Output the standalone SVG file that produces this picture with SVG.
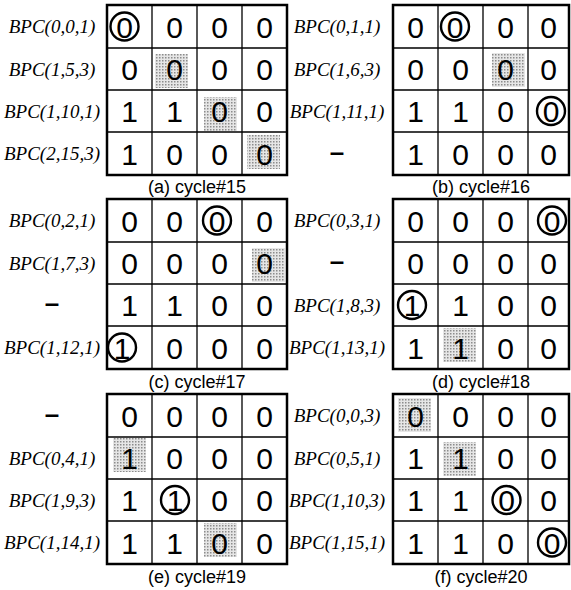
<svg xmlns="http://www.w3.org/2000/svg" width="571" height="590" viewBox="0 0 571 590">
<defs>
<pattern id="dots" width="3" height="3" patternUnits="userSpaceOnUse">
<rect width="3" height="3" fill="#e6e6e6"/>
<rect width="1.5" height="1.5" fill="#8c8c8c"/>
</pattern>
<style>
.outer{fill:none;stroke:#000;stroke-width:2.5}
.inner{fill:none;stroke:#000;stroke-width:1.3}
.shade{fill:url(#dots)}
.d{font-family:"Liberation Sans",Arial,sans-serif;font-size:30px;text-anchor:middle;fill:#000}
.lbl{font-family:"Liberation Serif","Times New Roman",serif;font-style:italic;font-size:19px;text-anchor:middle;fill:#000}
.dash{font-family:"Liberation Sans",Arial,sans-serif;font-size:26px;font-weight:bold;text-anchor:middle;fill:#000}
.cap{font-family:"Liberation Sans",Arial,sans-serif;font-size:18px;text-anchor:middle;fill:#000}
.ring{fill:none;stroke:#000;stroke-width:2.4}
</style>
</defs>
<rect width="571" height="590" fill="#fff"/>

<g id="panel-a">
<rect class="shade" x="155" y="54" width="33" height="34"/>
<rect class="shade" x="204" y="97" width="33" height="34"/>
<rect class="shade" x="247" y="135" width="33" height="34"/>
<path class="inner" d="M152 5V175M197 5V175M242 5V175M107 48H287M107 90H287M107 132H287"/>
<rect class="outer" x="107" y="5" width="180" height="170"/>
<text class="lbl" x="52" y="33">BPC(0,0,1)</text>
<text class="lbl" x="52" y="75.5">BPC(1,5,3)</text>
<text class="lbl" x="52" y="117.5">BPC(1,10,1)</text>
<text class="lbl" x="52" y="160">BPC(2,15,3)</text>
<text class="d" x="124.5 174.5 219.5 264.5" y="37.5">0000</text>
<text class="d" x="129.5 174.5 219.5 264.5" y="80">0000</text>
<text class="d" x="129.5 174.5 219.5 264.5" y="122">1100</text>
<text class="d" x="129.5 174.5 219.5 264.5" y="164.5">1000</text>
<circle class="ring" cx="124.5" cy="26.5" r="14"/>
<text class="cap" x="197" y="193">(a) cycle#15</text>
</g>

<g id="panel-b">
<rect class="shade" x="492" y="53" width="33" height="34"/>
<path class="inner" d="M438 5V175M483 5V175M528 5V175M393 48H569M393 90H569M393 132H569"/>
<rect class="outer" x="393" y="5" width="176" height="170"/>
<text class="lbl" x="337" y="33">BPC(0,1,1)</text>
<text class="lbl" x="337" y="75.5">BPC(1,6,3)</text>
<text class="lbl" x="337" y="117.5">BPC(1,11,1)</text>
<text class="dash" x="337" y="160.5">–</text>
<text class="d" x="415.5 455 505.5 548.5" y="37.5">0000</text>
<text class="d" x="415.5 460.5 505.5 548.5" y="80">0000</text>
<text class="d" x="415.5 460.5 505.5 551" y="122">1100</text>
<text class="d" x="415.5 460.5 505.5 548.5" y="164.5">1000</text>
<circle class="ring" cx="455" cy="26.5" r="14"/>
<circle class="ring" cx="551" cy="111" r="14"/>
<text class="cap" x="481" y="193">(b) cycle#16</text>
</g>

<g id="panel-c">
<rect class="shade" x="252" y="248" width="33" height="34"/>
<path class="inner" d="M152 199V369M197 199V369M242 199V369M107 242H287M107 284H287M107 326H287"/>
<rect class="outer" x="107" y="199" width="180" height="170"/>
<text class="lbl" x="52" y="227">BPC(0,2,1)</text>
<text class="lbl" x="52" y="269.5">BPC(1,7,3)</text>
<text class="dash" x="52" y="312">–</text>
<text class="lbl" x="52" y="354">BPC(1,12,1)</text>
<text class="d" x="129.5 174.5 217 264.5" y="231.5">0000</text>
<text class="d" x="129.5 174.5 219.5 264.5" y="274">0000</text>
<text class="d" x="129.5 174.5 219.5 264.5" y="316">1100</text>
<text class="d" x="122 174.5 219.5 264.5" y="358.5">1000</text>
<circle class="ring" cx="217" cy="220.5" r="14"/>
<circle class="ring" cx="122" cy="347.5" r="14"/>
<text class="cap" x="197" y="388">(c) cycle#17</text>
</g>

<g id="panel-d">
<rect class="shade" x="443" y="328" width="33" height="34"/>
<path class="inner" d="M438 199V369M483 199V369M528 199V369M393 242H569M393 284H569M393 326H569"/>
<rect class="outer" x="393" y="199" width="176" height="170"/>
<text class="lbl" x="337" y="227">BPC(0,3,1)</text>
<text class="dash" x="337" y="270">–</text>
<text class="lbl" x="337" y="311.5">BPC(1,8,3)</text>
<text class="lbl" x="337" y="354">BPC(1,13,1)</text>
<text class="d" x="415.5 460.5 505.5 552" y="231.5">0000</text>
<text class="d" x="415.5 460.5 505.5 548.5" y="274">0000</text>
<text class="d" x="412 460.5 505.5 548.5" y="316">1100</text>
<text class="d" x="415.5 460.5 505.5 548.5" y="358.5">1100</text>
<circle class="ring" cx="552" cy="220.5" r="14"/>
<circle class="ring" cx="412" cy="305" r="14"/>
<text class="cap" x="481" y="388">(d) cycle#18</text>
</g>

<g id="panel-e">
<rect class="shade" x="113" y="438" width="33" height="34"/>
<rect class="shade" x="204" y="523" width="33" height="34"/>
<path class="inner" d="M152 394V564M197 394V564M242 394V564M107 437H287M107 479H287M107 521H287"/>
<rect class="outer" x="107" y="394" width="180" height="170"/>
<text class="dash" x="52" y="422.5">–</text>
<text class="lbl" x="52" y="464.5">BPC(0,4,1)</text>
<text class="lbl" x="52" y="506.5">BPC(1,9,3)</text>
<text class="lbl" x="52" y="549">BPC(1,14,1)</text>
<text class="d" x="129.5 174.5 219.5 264.5" y="426.5">0000</text>
<text class="d" x="129.5 174.5 219.5 264.5" y="469">1000</text>
<text class="d" x="129.5 175 219.5 264.5" y="511">1100</text>
<text class="d" x="129.5 174.5 219.5 264.5" y="553.5">1100</text>
<circle class="ring" cx="175" cy="500" r="14"/>
<text class="cap" x="197" y="583">(e) cycle#19</text>
</g>

<g id="panel-f">
<rect class="shade" x="398" y="398" width="33" height="34"/>
<rect class="shade" x="443" y="442" width="33" height="34"/>
<path class="inner" d="M438 394V564M483 394V564M528 394V564M393 437H569M393 479H569M393 521H569"/>
<rect class="outer" x="393" y="394" width="176" height="170"/>
<text class="lbl" x="337" y="422">BPC(0,0,3)</text>
<text class="lbl" x="337" y="464.5">BPC(0,5,1)</text>
<text class="lbl" x="337" y="506.5">BPC(1,10,3)</text>
<text class="lbl" x="337" y="549">BPC(1,15,1)</text>
<text class="d" x="415.5 460.5 505.5 548.5" y="426.5">0000</text>
<text class="d" x="415.5 460.5 505.5 548.5" y="469">1100</text>
<text class="d" x="415.5 460.5 506.5 548.5" y="511">1100</text>
<text class="d" x="415.5 460.5 505.5 552" y="553.5">1100</text>
<circle class="ring" cx="506.5" cy="500" r="14"/>
<circle class="ring" cx="552" cy="542.5" r="14"/>
<text class="cap" x="481" y="583">(f) cycle#20</text>
</g>

<g id="connectors"/>
</svg>
